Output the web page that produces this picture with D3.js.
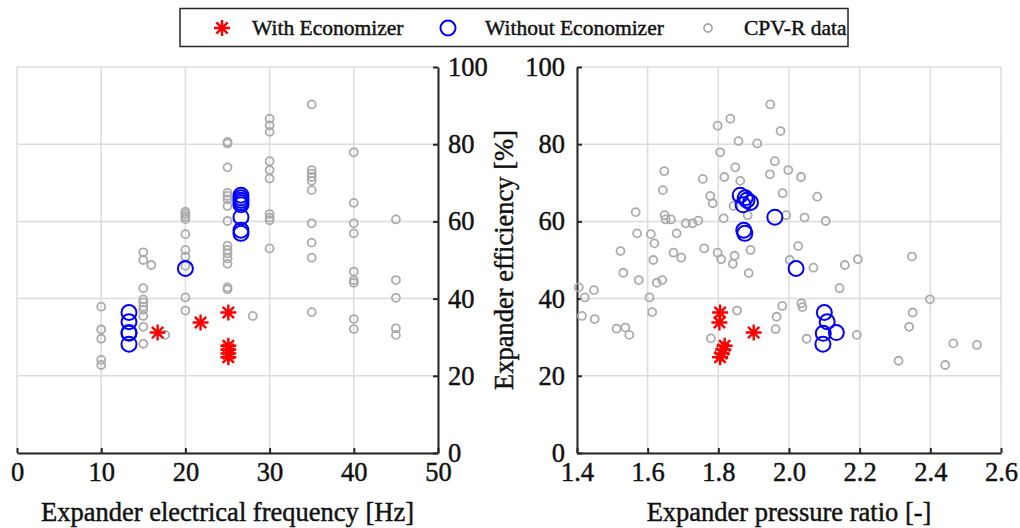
<!DOCTYPE html>
<html>
<head>
<meta charset="utf-8">
<script src="https://cdn.jsdelivr.net/npm/d3@7"></script>
<style>
body { margin: 0; background: #fff; }
text { font-family: "Liberation Serif", "Times New Roman", serif; fill: #111; stroke: #111; stroke-width: 0.45px; }
</style>
</head>
<body>
<div id="chart"></div>
<script>
// series: with economizer (red stars)
var effWith = [31.2, 33.8, 36.4, 27.8, 26.8, 25.8, 24.8];
var freqWith = [16.7, 21.8, 25.1, 25.1, 25.1, 25.1, 25.1];
var prWith = [1.900, 1.803, 1.805, 1.818, 1.814, 1.810, 1.805];

// series: without economizer (blue circles)
var effWithout = [36.4, 34.0, 31.2, 31.0, 28.2, 47.8, 66.8, 66.1, 65.5, 64.9, 64.3, 61.1, 57.7, 56.9];
var freqWithout = [13.3, 13.3, 13.3, 13.3, 13.3, 20.0, 26.6, 26.6, 26.6, 26.6, 26.6, 26.6, 26.6, 26.6];
var prWithout = [2.100, 2.108, 2.134, 2.097, 2.096, 2.020, 1.862, 1.876, 1.881, 1.891, 1.870, 1.960, 1.872, 1.875];

// CPV-R data, left panel (frequency)
var cpvFreq = [10, 10, 10, 10, 10,
    15, 15, 15, 15, 15, 15, 15, 15, 15, 15, 15.95, 17.6,
    20, 20, 20, 20, 20, 20, 20, 20, 20, 20,
    25, 25, 25, 25, 25, 25, 25, 25, 25, 25, 25, 25, 25, 25, 25, 28,
    30, 30, 30, 30, 30, 30, 30, 30, 30, 30,
    35, 35, 35, 35, 35, 35, 35, 35, 35, 35,
    40, 40, 40, 40, 40, 40, 40, 40, 40,
    45, 45, 45, 45, 45];
var cpvEffL = [37.9, 32.0, 29.6, 24.1, 22.8,
    52.0, 50.0, 42.7, 39.8, 39.0, 37.9, 37.1, 35.5, 32.7, 28.3, 48.7, 30.6,
    62.5, 61.9, 61.2, 60.6, 56.7, 52.6, 50.9, 48.5, 40.3, 36.9,
    80.6, 80.2, 74.0, 67.4, 66.6, 65.7, 64.0, 60.1, 53.7, 52.6, 51.7, 50.4, 49.0, 42.9, 42.4, 35.5,
    86.6, 84.9, 83.2, 75.6, 73.3, 71.1, 61.9, 61.0, 60.3, 53.0,
    90.3, 73.3, 72.4, 71.5, 70.5, 68.1, 59.5, 54.5, 50.6, 36.5,
    77.9, 64.8, 59.5, 56.9, 47.0, 44.8, 44.1, 34.7, 32.1,
    60.5, 44.8, 40.2, 32.3, 30.6];

// CPV-R data, right panel (pressure ratio)
var cpvPR = [1.405, 1.422, 1.448, 1.414, 1.450, 1.512, 1.537, 1.548, 1.523, 1.531,
    1.566, 1.570, 1.575, 1.605, 1.609, 1.619, 1.616, 1.613, 1.626, 1.641,
    1.647, 1.643, 1.648, 1.651, 1.666, 1.682, 1.673, 1.695, 1.708, 1.727,
    1.743, 1.756, 1.760, 1.777, 1.784, 1.779, 1.798, 1.805, 1.798, 1.808,
    1.817, 1.815, 1.834, 1.848, 1.846, 1.841, 1.853, 1.857, 1.862, 1.843,
    1.883, 1.891, 1.886, 1.910, 1.947, 1.976, 1.960, 1.946, 1.998, 2.034,
    1.982, 2.080, 1.992, 2.044, 2.104, 2.026, 2.002, 2.069, 2.158, 2.195,
    2.348, 2.143, 2.399, 1.981, 2.035, 2.038, 1.965, 1.962, 2.050, 2.192,
    2.350, 2.340, 2.465, 2.532, 2.310, 2.442];
var cpvEffR = [42.9, 40.3, 42.2, 35.5, 34.7, 32.2, 32.5, 30.6, 52.3, 46.7,
    62.4, 56.9, 44.8, 40.3, 56.7, 54.3, 50.0, 36.5, 44.1, 44.8,
    73.0, 68.1, 61.6, 60.5, 60.5, 56.9, 51.9, 50.6, 59.5, 59.5,
    60.2, 71.0, 53.0, 66.6, 64.7, 29.7, 84.8, 77.9, 51.9, 50.2,
    71.5, 60.8, 86.6, 74.0, 51.1, 49.0, 36.9, 80.8, 70.5, 64.0,
    61.6, 52.6, 46.6, 80.2, 90.3, 83.4, 75.6, 72.2, 73.3, 71.5,
    67.3, 66.4, 61.6, 61.0, 60.1, 53.6, 50.0, 48.0, 48.7, 50.2,
    50.9, 42.7, 39.8, 38.1, 38.8, 37.8, 35.3, 32.1, 29.6, 30.6,
    36.4, 32.7, 28.4, 28.0, 23.9, 22.8];

// tick values
var freqTicks = [0, 10, 20, 30, 40, 50];
var prTicks = [1.4, 1.6, 1.8, 2, 2.2, 2.4, 2.6];
var effTicks = [0, 20, 40, 60, 80, 100];

var legendLabels = ["With Economizer", "Without Economizer", "CPV-R data"];

var width = 1020;
var height = 528;
var top_y = 67, bottom_y = 453;

var svg = d3.select("#chart")
    .append("svg")
    .attr("width", width)
    .attr("height", height);

var y_scale = d3.scaleLinear().domain([0, 100]).range([bottom_y, top_y]);
var x_left = d3.scaleLinear().domain([0, 50]).range([17, 438]);
var x_right = d3.scaleLinear().domain([1.4, 2.6]).range([577, 1001]);

// asterisk marker (plus + cross)
function starPath(s) {
    var d = s * 0.7071;
    return "M0," + (-s) + "L0," + s +
        "M" + (-s) + ",0L" + s + ",0" +
        "M" + (-d) + "," + (-d) + "L" + d + "," + d +
        "M" + (-d) + "," + d + "L" + d + "," + (-d);
}

function panel(x_scale, xTicks, xs_cpv, ys_cpv, xs_with, xs_without, yAxisSide, xLabel) {
    var g = svg.append("g");

    // grid
    g.append("g").selectAll("line")
        .data(xTicks)
        .enter()
        .append("line")
        .attr("x1", function(d) { return x_scale(d); })
        .attr("x2", function(d) { return x_scale(d); })
        .attr("y1", top_y)
        .attr("y2", bottom_y)
        .attr("stroke", "#dcdcdc")
        .attr("stroke-width", 1.5);
    g.append("g").selectAll("line")
        .data(effTicks)
        .enter()
        .append("line")
        .attr("x1", x_scale.range()[0])
        .attr("x2", x_scale.range()[1])
        .attr("y1", function(d) { return y_scale(d); })
        .attr("y2", function(d) { return y_scale(d); })
        .attr("stroke", "#dcdcdc")
        .attr("stroke-width", 1.5);

    // axes
    var x_axis = d3.axisBottom(x_scale)
        .tickValues(xTicks)
        .tickSizeInner(-5)
        .tickSizeOuter(0)
        .tickPadding(9);
    var xa = g.append("g")
        .attr("transform", "translate(0," + bottom_y + ")")
        .call(x_axis);

    var y_axis, ya;
    if (yAxisSide == "right") {
        y_axis = d3.axisRight(y_scale).tickValues(effTicks).tickSizeInner(-5).tickSizeOuter(0).tickPadding(10);
        ya = g.append("g")
            .attr("transform", "translate(" + x_scale.range()[1] + ",0)")
            .call(y_axis);
    } else {
        y_axis = d3.axisLeft(y_scale).tickValues(effTicks).tickSizeInner(-5).tickSizeOuter(0).tickPadding(12);
        ya = g.append("g")
            .attr("transform", "translate(" + x_scale.range()[0] + ",0)")
            .call(y_axis);
    }
    [xa, ya].forEach(function(a) {
        a.select(".domain").attr("stroke", "#262626").attr("stroke-width", 2);
        a.selectAll(".tick line").attr("stroke", "#262626").attr("stroke-width", 2);
        a.selectAll(".tick text")
            .attr("font-size", 26.5);
    });

    // x label
    g.append("text")
        .attr("x", (x_scale.range()[0] + x_scale.range()[1]) / 2)
        .attr("y", 521)
        .attr("text-anchor", "middle")
        .attr("font-size", 26.5)
        .text(xLabel);

    // CPV-R data
    g.append("g").selectAll("circle")
        .data(xs_cpv)
        .enter()
        .append("circle")
        .attr("cx", function(d) { return x_scale(d); })
        .attr("cy", function(d, i) { return y_scale(ys_cpv[i]); })
        .attr("r", 4)
        .attr("fill", "none")
        .attr("stroke", "#ababab")
        .attr("stroke-width", 1.8);

    // without economizer
    g.append("g").selectAll("circle")
        .data(xs_without)
        .enter()
        .append("circle")
        .attr("cx", function(d) { return x_scale(d); })
        .attr("cy", function(d, i) { return y_scale(effWithout[i]); })
        .attr("r", 7.5)
        .attr("fill", "none")
        .attr("stroke", "#0000ff")
        .attr("stroke-width", 2);

    // with economizer
    g.append("g").selectAll("path")
        .data(xs_with)
        .enter()
        .append("path")
        .attr("transform", function(d, i) {
            return "translate(" + x_scale(d) + "," + y_scale(effWith[i]) + ")";
        })
        .attr("d", starPath(8))
        .attr("fill", "none")
        .attr("stroke", "#ff0000")
        .attr("stroke-width", 2.4);
}

panel(x_left, freqTicks, cpvFreq, cpvEffL, freqWith, freqWithout, "right", "Expander electrical frequency [Hz]");
panel(x_right, prTicks, cpvPR, cpvEffR, prWith, prWithout, "left", "Expander pressure ratio [-]");

// y label
svg.append("text")
    .attr("transform", "translate(513," + ((top_y + bottom_y) / 2) + ") rotate(-90)")
    .attr("text-anchor", "middle")
    .attr("font-size", 26.5)
    .text("Expander efficiency [%]");

// legend
var legend = svg.append("g");
legend.append("rect")
    .attr("x", 180)
    .attr("y", 8.5)
    .attr("width", 668)
    .attr("height", 38)
    .attr("fill", "#fff")
    .attr("stroke", "#262626")
    .attr("stroke-width", 1.5);

var legendX = [222, 448, 708];
var legendTextX = [252, 485, 744];

legend.append("path")
    .attr("transform", "translate(" + legendX[0] + ",28)")
    .attr("d", starPath(8))
    .attr("fill", "none")
    .attr("stroke", "#ff0000")
    .attr("stroke-width", 2.4);
legend.append("circle")
    .attr("cx", legendX[1])
    .attr("cy", 28)
    .attr("r", 7.5)
    .attr("fill", "none")
    .attr("stroke", "#0000ff")
    .attr("stroke-width", 2);
legend.append("circle")
    .attr("cx", legendX[2])
    .attr("cy", 28)
    .attr("r", 4)
    .attr("fill", "none")
    .attr("stroke", "#ababab")
    .attr("stroke-width", 1.8);

legend.selectAll("text")
    .data(legendLabels)
    .enter()
    .append("text")
    .attr("x", function(d, i) { return legendTextX[i]; })
    .attr("y", 35)
    .attr("font-size", 21.5)
    .text(function(d) { return d; });
</script>
</body>
</html>
